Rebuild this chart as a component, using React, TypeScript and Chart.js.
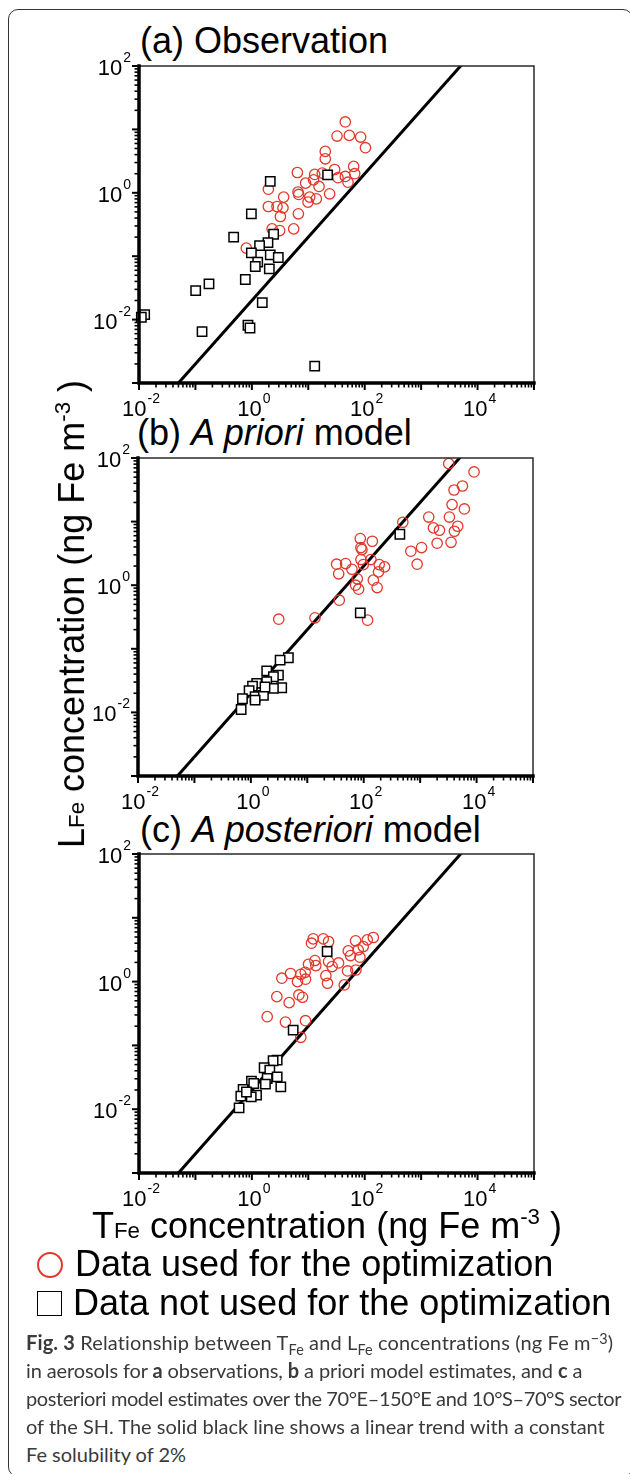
import React, { useEffect, useRef } from "react";
import { Chart, registerables } from "chart.js";

Chart.register(...registerables);

const RED = "#e2382b";
const FONT = '"Liberation Sans", Arial, Helvetica, sans-serif';

// Axis ranges and tick labels (powers of ten)
const X_MIN = 1e-2;
const X_MAX = 1e5;
const Y_MIN = 1e-3;
const Y_MAX = 1e2;
const xTickExponents = [-2, 0, 2, 4];
const yTickExponents = [-2, 0, 2];

// Linear trend with constant Fe solubility of 2 %
const FE_SOLUBILITY = 0.02;
const trendTFe = [1e-2, 1e5];

// (a) Observation — TFe (x) and LFe (y), ng Fe m-3
const obsUsedT = [45.3, 32.3, 53.3, 84.7, 103, 20.0, 20.0, 6.40, 13.0, 29.3, 63.7, 66.4, 45.3, 33.6, 50.5, 12.4, 8.97, 15.5, 1.96, 6.58, 6.76, 10.6, 13.9, 9.89, 23.9, 3.66, 1.96, 2.79, 3.56, 3.20, 6.67, 5.51, 2.28, 3.11, 0.798, 17.7];
const obsUsedL = [13.1, 7.85, 8.04, 7.57, 5.14, 4.50, 3.44, 2.09, 1.95, 2.33, 2.61, 2.00, 1.81, 1.73, 1.47, 1.60, 1.42, 1.26, 1.14, 1.03, 0.942, 0.855, 0.803, 0.713, 0.964, 0.855, 0.608, 0.608, 0.579, 0.423, 0.466, 0.270, 0.270, 0.254, 0.134, 2.05];
const obsNotUsedT = [2.12, 22.0, 0.98, 0.476, 2.43, 1.93, 1.37, 0.98, 2.12, 2.94, 1.27, 1.15, 2.04, 0.766, 0.174, 0.101, 1.53, 0.0126, 0.0110, 0.853, 0.927, 0.131, 13.0];
const obsNotUsedL = [1.51, 1.92, 0.466, 0.200, 0.222, 0.164, 0.147, 0.113, 0.105, 0.0953, 0.0804, 0.0687, 0.0631, 0.0429, 0.0366, 0.0287, 0.0185, 0.0120, 0.0109, 0.00815, 0.00738, 0.00647, 0.00185];

// (b) A priori model
const priUsedT = [3210, 9020, 5610, 3990, 3680, 6080, 493, 1420, 3300, 1720, 2200, 4630, 4050, 2000, 3530, 1060, 684, 885, 86.9, 142, 89.3, 93.1, 89.3, 134, 98.2, 33.1, 47.8, 61.8, 36.0, 188, 234, 183, 76.9, 148, 71.8, 81.1, 173, 36.9, 3.12, 13.7, 117];
const priUsedL = [81.5, 60.3, 36.3, 31.4, 18.5, 15.8, 9.77, 11.8, 11.8, 7.96, 7.31, 8.45, 7.05, 4.57, 4.73, 3.91, 3.42, 2.14, 5.41, 4.91, 3.91, 3.63, 2.53, 2.53, 2.11, 2.14, 2.19, 1.78, 1.51, 2.11, 1.94, 1.62, 1.26, 1.20, 1.00, 0.865, 0.918, 0.581, 0.292, 0.307, 0.282];
const priNotUsedT = [437, 86.9, 4.62, 3.30, 1.91, 3.08, 2.51, 1.91, 1.27, 1.07, 3.52, 2.51, 0.931, 1.56, 1.19, 1.67, 0.710, 1.19, 0.673, 1.78];
const priNotUsedL = [6.32, 0.367, 0.0723, 0.0664, 0.0451, 0.0385, 0.0363, 0.0303, 0.0285, 0.0259, 0.0244, 0.0238, 0.0219, 0.0204, 0.0176, 0.0185, 0.0164, 0.0156, 0.0111, 0.0251];

// (c) A posteriori model
const postUsedT = [12.2, 11.4, 18.4, 22.9, 68.9, 111, 142, 94.2, 76.7, 51.1, 56.1, 82.2, 13.1, 10.1, 13.6, 22.9, 34.4, 26.5, 49.7, 69.8, 20.5, 21.9, 8.81, 7.38, 4.84, 3.40, 6.44, 8.93, 43.4, 2.77, 6.81, 7.91, 4.58, 1.87, 3.94, 8.93, 7.38];
const postUsedL = [4.68, 4.00, 4.68, 4.25, 4.36, 4.51, 4.91, 3.55, 3.14, 3.03, 2.56, 2.41, 2.14, 1.87, 1.78, 2.06, 1.96, 1.72, 1.47, 1.52, 1.24, 0.942, 1.40, 1.30, 1.34, 1.13, 1.00, 1.09, 0.887, 0.581, 0.618, 0.568, 0.468, 0.282, 0.232, 0.244, 0.134];
const postNotUsedT = [21.6, 5.40, 2.81, 2.38, 1.65, 2.08, 2.81, 1.87, 0.984, 1.08, 1.74, 3.26, 0.700, 1.21, 0.637, 0.975, 0.802, 0.594];
const postNotUsedL = [2.96, 0.174, 0.0589, 0.0575, 0.0446, 0.0410, 0.0322, 0.0303, 0.0275, 0.0253, 0.0247, 0.0224, 0.0204, 0.0166, 0.0160, 0.0156, 0.0186, 0.0105];

type Area = { left: number; right: number; top: number; bottom: number };

const toPoints = (xs: number[], ys: number[]) => xs.map((x, i) => ({ x, y: ys[i] }));

function drawPow(ctx: CanvasRenderingContext2D, exp: number, x: number, baseY: number, supY: number, align: "right" | "center") {
  const base = "10";
  const sup = String(exp);
  ctx.font = `22px ${FONT}`;
  const wb = ctx.measureText(base).width;
  ctx.font = `14px ${FONT}`;
  const ws = ctx.measureText(sup).width;
  const total = wb + ws + 1;
  const start = align === "right" ? x - total : x - total / 2;
  ctx.textAlign = "left";
  ctx.textBaseline = "alphabetic";
  ctx.fillStyle = "#000";
  ctx.font = `22px ${FONT}`;
  ctx.fillText(base, start, baseY);
  ctx.font = `14px ${FONT}`;
  ctx.fillText(sup, start + wb + 1, supY);
}

const axesPlugin = {
  id: "logAxes",
  afterDatasetsDraw(chart: any) {
    const { ctx, chartArea: a, scales } = chart;
    const xs = scales.x;
    const ys = scales.y;
    ctx.save();
    // thin top/right frame
    ctx.strokeStyle = "#2a2a2a";
    ctx.lineWidth = 1.5;
    ctx.beginPath();
    ctx.moveTo(a.left, a.top);
    ctx.lineTo(a.right, a.top);
    ctx.lineTo(a.right, a.bottom);
    ctx.stroke();
    ctx.strokeStyle = "#000";
    // y ticks
    for (let e = -3; e <= 2; e++) {
      for (let k = 1; k <= 9; k++) {
        const v = k * Math.pow(10, e);
        if (v < Y_MIN * 0.999 || v > Y_MAX * 1.001) continue;
        const py = ys.getPixelForValue(v);
        const len = k === 1 ? 7 : 4.5;
        ctx.lineWidth = k === 1 ? 2 : 1.6;
        ctx.beginPath();
        ctx.moveTo(a.left - len, py);
        ctx.lineTo(a.left, py);
        ctx.stroke();
      }
    }
    // x ticks
    for (let e = -2; e <= 5; e++) {
      for (let k = 1; k <= 9; k++) {
        const v = k * Math.pow(10, e);
        if (v < X_MIN * 0.999 || v > X_MAX * 1.001) continue;
        const px = xs.getPixelForValue(v);
        const len = k === 1 ? 7 : 4.5;
        ctx.lineWidth = k === 1 ? 2 : 1.6;
        ctx.beginPath();
        ctx.moveTo(px, a.bottom);
        ctx.lineTo(px, a.bottom + len);
        ctx.stroke();
      }
    }
    // thick left/bottom axes
    ctx.lineWidth = 3.5;
    ctx.lineCap = "square";
    ctx.beginPath();
    ctx.moveTo(a.left, a.top);
    ctx.lineTo(a.left, a.bottom);
    ctx.lineTo(a.right, a.bottom);
    ctx.stroke();
    // tick labels
    yTickExponents.forEach((e) => {
      const py = ys.getPixelForValue(Math.pow(10, e));
      drawPow(ctx, e, a.left - 8, py + 9, py - 4, "right");
    });
    xTickExponents.forEach((e) => {
      const px = xs.getPixelForValue(Math.pow(10, e));
      drawPow(ctx, e, px + 2, a.bottom + 33, a.bottom + 20, "center");
    });
    ctx.restore();
  },
};

function Panel({ area, usedT, usedL, notT, notL }: { area: Area; usedT: number[]; usedL: number[]; notT: number[]; notL: number[] }) {
  const ref = useRef<HTMLCanvasElement | null>(null);
  const padTop = 60;
  const padBottom = 45;
  const height = area.bottom - area.top + padTop + padBottom;
  useEffect(() => {
    if (!ref.current) return;
    const chart = new Chart(ref.current, {
      type: "scatter",
      data: {
        datasets: [
          {
            type: "line",
            label: "2% solubility",
            data: trendTFe.map((t) => ({ x: t, y: t * FE_SOLUBILITY })),
            borderColor: "#000",
            borderWidth: 3,
            pointRadius: 0,
            showLine: true,
            fill: false,
            clip: 0,
            order: 3,
          } as any,
          {
            label: "Data used for the optimization",
            data: toPoints(usedT, usedL),
            pointStyle: "circle",
            pointRadius: 5.2,
            borderColor: RED,
            borderWidth: 1.3,
            backgroundColor: "rgba(0,0,0,0)",
            clip: false,
            order: 2,
          } as any,
          {
            label: "Data not used for the optimization",
            data: toPoints(notT, notL),
            pointStyle: "rect",
            pointRadius: 6.6,
            borderColor: "#000",
            borderWidth: 1.5,
            backgroundColor: "#fff",
            clip: false,
            order: 1,
          } as any,
        ],
      },
      options: {
        animation: false,
        responsive: false,
        events: [],
        layout: { padding: { left: area.left, right: 630 - area.right, top: padTop, bottom: padBottom } },
        plugins: { legend: { display: false }, tooltip: { enabled: false } },
        scales: {
          x: { type: "logarithmic", min: X_MIN, max: X_MAX, display: false },
          y: { type: "logarithmic", min: Y_MIN, max: Y_MAX, display: false },
        },
      } as any,
      plugins: [axesPlugin],
    });
    return () => chart.destroy();
  }, []);
  return (
    <canvas
      ref={ref}
      width={630}
      height={height}
      style={{ position: "absolute", left: 0, top: area.top - padTop, width: 630, height }}
    />
  );
}

const panelA: Area = { left: 139, right: 534, top: 66, bottom: 383 };
const panelB: Area = { left: 138, right: 533, top: 458, bottom: 776 };
const panelC: Area = { left: 139, right: 534, top: 854, bottom: 1173 };

const BIG = 36;
const topFor = (baseline: number, f: number) => baseline - 0.8465 * f;

const small: React.CSSProperties = { fontSize: "0.62em" };
const supStyle: React.CSSProperties = { fontSize: "0.62em", position: "relative", top: "-0.62em" };

function Title({ baseline, left, children }: { baseline: number; left: number; children: React.ReactNode }) {
  return (
    <div style={{ position: "absolute", left, top: topFor(baseline, BIG), fontSize: BIG, lineHeight: `${BIG}px`, whiteSpace: "nowrap", color: "#000" }}>
      {children}
    </div>
  );
}

const CAP_F = 20;
// Lato: ascent 0.987, descent 0.213 -> baseline offset for line-height = F
const capTop = (baseline: number) => baseline - (0.987 - (1.2 - 1) / 2) * CAP_F;
const capSub: React.CSSProperties = { fontSize: "0.72em", position: "relative", top: "0.3em", lineHeight: 0 };
const capSup: React.CSSProperties = { fontSize: "0.72em", position: "relative", top: "-0.45em", lineHeight: 0 };

function CapLine({ baseline, spacing, children }: { baseline: number; spacing: number; children: React.ReactNode }) {
  return (
    <div
      style={{
        position: "absolute",
        left: 26,
        top: capTop(baseline),
        fontFamily: 'Lato, "Open Sans", sans-serif',
        fontSize: CAP_F,
        lineHeight: `${CAP_F}px`,
        letterSpacing: `${spacing}px`,
        color: "#3a3a3a",
        whiteSpace: "nowrap",
      }}
    >
      {children}
    </div>
  );
}

export default function App() {
  return (
    <div style={{ position: "fixed", left: 0, top: 0, width: 630, height: 1474, overflow: "hidden", background: "#fff", fontFamily: FONT }}>
      <div style={{ position: "absolute", left: 8, top: 9, width: 625, height: 1468, border: "1.5px solid #333", borderRadius: 10, boxSizing: "border-box" }} />

      <Title baseline={53} left={140}>(a) Observation</Title>
      <Title baseline={445} left={137}>
        (b) <i>A priori</i> model
      </Title>
      <Title baseline={842} left={140}>
        (c) <i>A posteriori</i> model
      </Title>

      <Panel area={panelA} usedT={obsUsedT} usedL={obsUsedL} notT={obsNotUsedT} notL={obsNotUsedL} />
      <Panel area={panelB} usedT={priUsedT} usedL={priUsedL} notT={priNotUsedT} notL={priNotUsedL} />
      <Panel area={panelC} usedT={postUsedT} usedL={postUsedL} notT={postNotUsedT} notL={postNotUsedL} />

      {/* y-axis title */}
      <div
        style={{
          position: "absolute",
          left: 0,
          top: 0,
          transformOrigin: "0 0",
          transform: `translate(${87 - 0.3465 * BIG}px, 614px) rotate(-90deg) translate(-50%, -50%)`,
          fontSize: BIG,
          lineHeight: `${BIG}px`,
          whiteSpace: "nowrap",
        }}
      >
        L<span style={small}>Fe</span> concentration (ng Fe m<span style={supStyle}>-3</span> )
      </div>

      {/* x-axis title */}
      <div style={{ position: "absolute", left: 0, width: 654, textAlign: "center", top: topFor(1238, BIG), fontSize: BIG, lineHeight: `${BIG}px`, whiteSpace: "nowrap" }}>
        T<span style={small}>Fe</span> concentration (ng Fe m<span style={supStyle}>-3</span> )
      </div>

      {/* legend */}
      <div style={{ position: "absolute", left: 37, top: 1252, width: 26, height: 26, border: `2px solid ${RED}`, borderRadius: "50%", boxSizing: "border-box" }} />
      <div style={{ position: "absolute", left: 75, top: topFor(1276, BIG), fontSize: BIG, lineHeight: `${BIG}px`, whiteSpace: "nowrap" }}>
        Data used for the optimization
      </div>
      <div style={{ position: "absolute", left: 37, top: 1291, width: 25, height: 25, border: "1.5px solid #000", boxSizing: "border-box" }} />
      <div style={{ position: "absolute", left: 73, top: topFor(1315, BIG), fontSize: BIG, lineHeight: `${BIG}px`, whiteSpace: "nowrap" }}>
        Data not used for the optimization
      </div>

      {/* caption */}
      <CapLine baseline={1350} spacing={0.13}>
        <b>Fig. 3</b> Relationship between T<span style={capSub}>Fe</span> and L<span style={capSub}>Fe</span> concentrations (ng Fe m<span style={capSup}>−3</span>)
      </CapLine>
      <CapLine baseline={1378} spacing={-0.11}>
        in aerosols for <b>a</b> observations, <b>b</b> a priori model estimates, and <b>c</b> a
      </CapLine>
      <CapLine baseline={1406} spacing={-0.42}>posteriori model estimates over the 70°E–150°E and 10°S–70°S sector</CapLine>
      <CapLine baseline={1434} spacing={0}>of the SH. The solid black line shows a linear trend with a constant</CapLine>
      <CapLine baseline={1462} spacing={0}>Fe solubility of 2%</CapLine>
    </div>
  );
}
